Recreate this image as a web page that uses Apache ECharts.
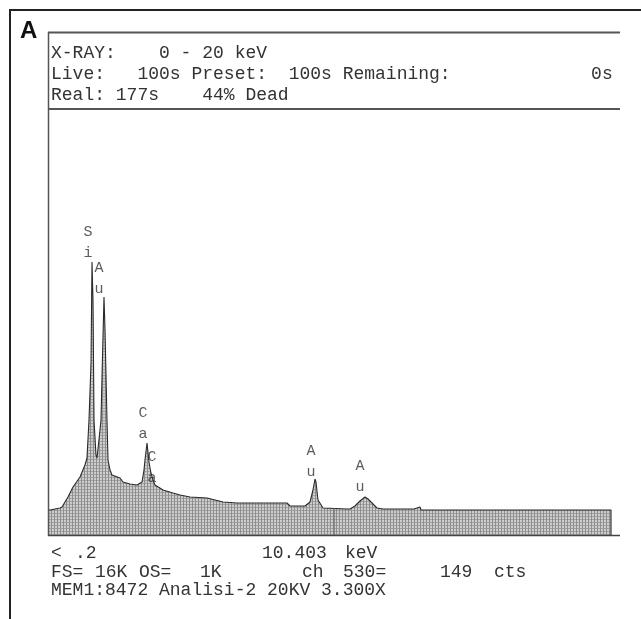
<!DOCTYPE html>
<html><head><meta charset="utf-8">
<script src="https://cdn.jsdelivr.net/npm/echarts@6/dist/echarts.min.js"></script>
<style>html,body{margin:0;padding:0;background:#fff}#c{width:641px;height:619px}</style>
</head><body><div id="c"></div>
<script>
// Spectrum: energy (keV) and counts (FS = 16K)
const energy = [0.000,0.073,0.436,0.509,0.727,0.909,1.164,1.345,1.418,1.491,1.564,1.600,1.636,1.673,1.745,1.782,1.818,1.891,1.927,1.964,2.036,2.073,2.145,2.182,2.255,2.327,2.618,2.727,2.982,3.236,3.418,3.491,3.527,3.600,3.636,3.673,3.709,3.745,3.818,3.891,4.182,4.545,4.800,5.164,5.782,6.364,6.873,8.691,8.800,9.345,9.527,9.636,9.709,9.745,9.818,10.000,10.873,10.909,10.982,11.164,11.345,11.527,11.636,11.782,11.964,12.182,13.309,13.345,13.527,13.564,20.473,20.474];
const counts = [964,964,1041,1079,1465,1850,2236,2699,2968,4433,6631,10524,9059,4433,3084,2968,3045,4048,4433,6091,9175,7903,4433,2891,2506,2313,2197,2043,1966,1928,2043,2506,2891,3547,3470,2814,2583,2390,2120,1928,1735,1619,1542,1465,1426,1272,1234,1234,1118,1118,1272,1735,2159,2043,1349,1041,1002,925,1002,1118,1311,1465,1388,1234,1041,1002,1002,1079,1079,964,964,0];

// Peak identification labels
const peakText = ['S\ni','A\nu','C\na','C\na','A\nu','A\nu'];
const peakEnergy = [1.455,1.855,3.455,3.782,9.564,11.345];
const peakLabelCounts = [12066,10678,5089,3392,3624,3045];

// Cursor
const cursorEnergy = 10.403;
const cursorCounts = 1041;

// Screen text
const panelLetter = 'A';
const headerLines = [
  'X-RAY:    0 - 20 keV',
  'Live:   100s Preset:  100s Remaining:             0s',
  'Real: 177s    44% Dead'
];
const footerRow1 = ['<', '.2', '10.403', 'keV'];
const footerRow2 = ['FS=', '16K', 'OS=', '1K', 'ch', '530=', '149', 'cts'];
const footerRow3 = ['MEM1:8472 Analisi-2 20KV 3.300X'];

// fill pattern (CRT-like grid hatching)
function makePattern(){
  const c = document.createElement('canvas');
  c.width = 3; c.height = 3;
  const g = c.getContext('2d');
  g.fillStyle = '#cdcdcd'; g.fillRect(0,0,3,3);
  g.fillStyle = '#8e8e8e'; g.fillRect(0,0,1,3);
  g.fillStyle = '#a2a2a2'; g.fillRect(1,0,2,1);
  return c;
}

const chart = echarts.init(document.getElementById('c'), null, {renderer:'canvas'});
const mono = '"Liberation Mono", "DejaVu Sans Mono", monospace';
const spec = energy.map((e,i)=>[e, counts[i]]);
const labels = peakEnergy.map((e,i)=>({value:[e, peakLabelCounts[i]], label:{formatter: peakText[i]}}));

const graphics = [
  {type:'rect', shape:{x:10,y:10,width:700,height:700}, style:{fill:'none', stroke:'#222', lineWidth:2}, z:10},
  {type:'text', x:20, y:19, style:{text:panelLetter, font:'bold 24px "Liberation Sans", Arial, sans-serif', fill:'#111'}, z:10},
  {type:'line', shape:{x1:48,y1:32.5,x2:620,y2:32.5}, style:{stroke:'#555', lineWidth:2}, z:10},
  {type:'line', shape:{x1:48,y1:109,x2:620,y2:109}, style:{stroke:'#555', lineWidth:2}, z:10},
  {type:'line', shape:{x1:48.5,y1:32,x2:48.5,y2:536}, style:{stroke:'#555', lineWidth:1.5}, z:10},
  {type:'line', shape:{x1:48,y1:535.5,x2:620,y2:535.5}, style:{stroke:'#444', lineWidth:1.5}, z:10}
];
const txt = (t,x,y)=>({type:'text', x:x, y:y, style:{text:t, font:'18px '+mono, fill:'#333', verticalAlign:'middle'}, z:10});
const headerY = [53, 74, 95];
headerLines.forEach((t,i)=>graphics.push(txt(t, 51, headerY[i])));
const row1X = [51, 75, 262, 345];
footerRow1.forEach((t,i)=>graphics.push(txt(t, row1X[i], 553)));
const row2X = [51, 95, 139, 200, 302, 343, 440, 494];
footerRow2.forEach((t,i)=>graphics.push(txt(t, row2X[i], 572)));
footerRow3.forEach((t)=>graphics.push(txt(t, 51, 590)));

chart.setOption({
  backgroundColor:'#fff',
  animation:false,
  grid:{left:48, right:21, top:110, bottom:84},
  xAxis:{type:'value', min:0, max:20.8, show:false},
  yAxis:{type:'value', min:0, max:16384, show:false},
  series:[
    {type:'line', data:spec, symbol:'none', lineStyle:{color:'#2a2a2a', width:1.1},
     areaStyle:{color:{image:makePattern(), repeat:'repeat'}, opacity:1}, z:2},
    {type:'line', data:[[cursorEnergy,0],[cursorEnergy,cursorCounts]], symbol:'none', lineStyle:{color:'#666', width:1}, z:3},
    {type:'scatter', data:labels, symbolSize:0, z:4,
     label:{show:true, position:'bottom', distance:0, fontFamily:mono, fontSize:15, color:'#333', lineHeight:21, align:'center'}}
  ],
  graphic:graphics
});
</script></body></html>
